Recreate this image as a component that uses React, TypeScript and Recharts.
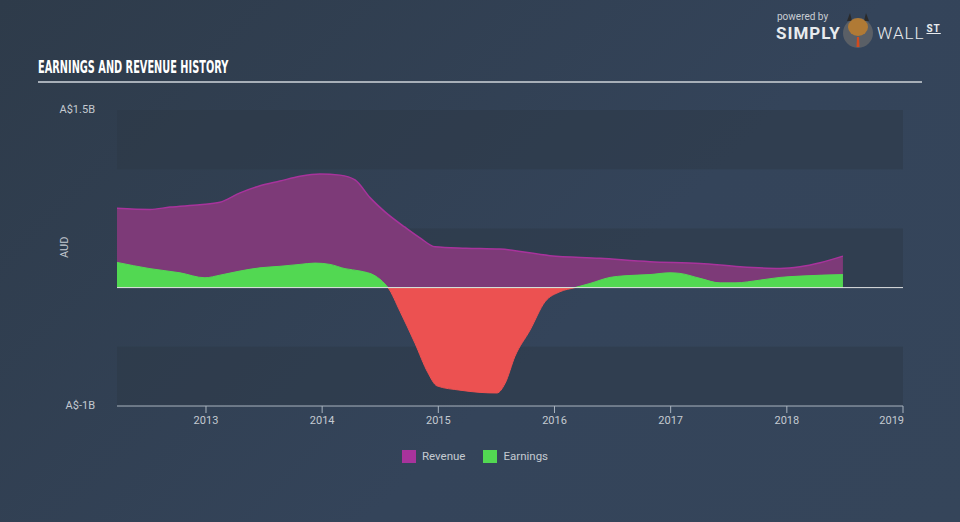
import React from "react";
import {
  AreaChart,
  Area,
  XAxis,
  YAxis,
  ReferenceArea,
  ReferenceLine,
} from "recharts";

// decimal years
const revenueYears = [
  2012.234, 2012.518, 2012.69, 2012.948, 2013.12, 2013.293, 2013.465, 2013.637,
  2013.809, 2013.981, 2014.153, 2014.283, 2014.412, 2014.541, 2014.713, 2014.842,
  2014.971, 2015.238, 2015.531, 2015.961, 2016.392, 2016.822, 2017.253, 2017.597,
  2017.941, 2018.113, 2018.286, 2018.483,
];
// A$ billions
const revenueValues = [
  0.67, 0.66, 0.68, 0.7, 0.72, 0.8, 0.86, 0.9, 0.94, 0.96, 0.95, 0.91, 0.76, 0.64,
  0.51, 0.42, 0.345, 0.333, 0.325, 0.27, 0.247, 0.218, 0.204, 0.176, 0.162, 0.176,
  0.21, 0.266,
];

const earningsYears = [
  2012.234, 2012.518, 2012.776, 2012.991, 2013.12, 2013.293, 2013.465, 2013.637,
  2013.809, 2013.938, 2014.067, 2014.196, 2014.326, 2014.455, 2014.541, 2014.567,
  2014.67, 2014.799, 2014.911, 2014.988, 2015.186, 2015.359, 2015.505, 2015.574,
  2015.66, 2015.789, 2015.918, 2016.047, 2016.176, 2016.306, 2016.478, 2016.607,
  2016.822, 2016.994, 2017.08, 2017.253, 2017.425, 2017.554, 2017.769, 2017.941,
  2018.113, 2018.483,
];
const earningsValues = [
  0.213, 0.16, 0.125, 0.083, 0.105, 0.14, 0.167, 0.18, 0.196, 0.207, 0.196, 0.16,
  0.14, 0.1, 0.03, 0, -0.2, -0.47, -0.72, -0.83, -0.866, -0.885, -0.89, -0.81,
  -0.58, -0.36, -0.12, -0.035, 0, 0.035, 0.086, 0.1, 0.11, 0.125, 0.12, 0.078,
  0.04, 0.04, 0.063, 0.086, 0.097, 0.11,
];

const yearTicks = [2013, 2014, 2015, 2016, 2017, 2018, 2019];
const valueTicks = [1.5, -1];
const valueLabels = ["A$1.5B", "A$-1B"];
const bandTops = [1.5, 0.5, -0.5];
const legendNames = ["Revenue", "Earnings"];

const revenueData = revenueYears.map((t, i) => ({ t, revenue: revenueValues[i] }));
const earningsData = earningsYears.map((t, i) => ({ t, earnings: earningsValues[i] }));

const eMax = Math.max(...earningsValues);
const eMin = Math.min(...earningsValues);
const zeroOffset = eMax / (eMax - eMin);

const GREEN = "#52d852";
const RED = "#ec5151";
const PURPLE = "#a8339c";
const TEXT = "#c4cad1";

function YearTick(props: any) {
  const { x, y, payload } = props;
  const last = payload.value === yearTicks[yearTicks.length - 1];
  return (
    <text
      x={last ? x + 1 : x}
      y={y}
      dy="0.71em"
      textAnchor={last ? "end" : "middle"}
      fill={TEXT}
      fontSize={11}
      fontFamily="Roboto, sans-serif"
    >
      {payload.value}
    </text>
  );
}

function ValueTick(props: any) {
  const { x, y, payload } = props;
  const idx = valueTicks.indexOf(payload.value);
  return (
    <text
      x={x}
      y={y - 1}
      dy="0.35em"
      textAnchor="end"
      fill={TEXT}
      fontSize={11}
      fontFamily="Roboto, sans-serif"
    >
      {valueLabels[idx]}
    </text>
  );
}

export default function App() {
  return (
    <div
      style={{
        position: "absolute",
        left: 0,
        top: 0,
        width: 960,
        height: 522,
        background: "linear-gradient(135deg, #2e3b4a 0%, #34445a 60%, #35455a 100%)",
        fontFamily: "Roboto, sans-serif",
        overflow: "hidden",
      }}
    >
      <div
        style={{
          position: "absolute",
          left: 38,
          top: 57,
          color: "#ffffff",
          fontFamily: "'DejaVu Sans Condensed', 'Liberation Sans', sans-serif",
          fontWeight: 700,
          fontSize: 17,
          whiteSpace: "nowrap",
          transform: "scaleX(0.64)",
          transformOrigin: "left top",
        }}
      >
        EARNINGS AND REVENUE HISTORY
      </div>
      <div
        style={{
          position: "absolute",
          left: 38,
          top: 81,
          width: 884,
          height: 2,
          background: "#a7afb8",
        }}
      />

      {/* logo */}
      <div style={{ position: "absolute", left: 777, top: 11, color: "#c9ced4", fontSize: 10 }}>
        powered by
      </div>
      <div
        style={{
          position: "absolute",
          left: 776,
          top: 23,
          color: "#e8ebee",
          fontSize: 17,
          fontWeight: 700,
          letterSpacing: 1,
        }}
      >
        SIMPLY
      </div>
      <svg style={{ position: "absolute", left: 841, top: 9 }} width={34} height={40}>
        <circle cx={17} cy={24} r={15} fill="#5a5f66" />
        <path d="M6 12 L9 4 L11 12 Z M28 12 L25 4 L23 12 Z" fill="#2a2a2a" />
        <ellipse cx={17} cy={18} rx={10} ry={9} fill="#b07a35" />
        <path d="M16 28 L18 28 L18.5 38 L15.5 38 Z" fill="#d24a1e" />
      </svg>
      <div
        style={{
          position: "absolute",
          left: 877,
          top: 23,
          color: "#e8ebee",
          fontSize: 17,
          fontWeight: 300,
          letterSpacing: 1,
        }}
      >
        WALL
        <span
          style={{
            fontSize: 10,
            fontWeight: 700,
            verticalAlign: "top",
            marginLeft: 2,
            textDecoration: "underline",
          }}
        >
          ST
        </span>
      </div>

      <div style={{ position: "absolute", left: 0, top: 0 }}>
        <AreaChart
          width={960}
          height={522}
          margin={{ top: 110, right: 57, bottom: 86, left: 0 }}
        >
          <defs>
            <linearGradient id="earnFill" x1="0" y1="0" x2="0" y2="1">
              <stop offset={zeroOffset} stopColor={GREEN} />
              <stop offset={zeroOffset} stopColor={RED} />
            </linearGradient>
          </defs>
          {bandTops.map((top) => (
            <ReferenceArea
              key={top}
              y1={top}
              y2={top - 0.5}
              fill="#2b3846"
              fillOpacity={0.5}
              stroke="none"
              ifOverflow="visible"
            />
          ))}
          <XAxis
            dataKey="t"
            type="number"
            domain={[revenueYears[0], 2019]}
            ticks={yearTicks}
            tick={<YearTick />}
            tickSize={7}
            tickMargin={3}
            height={30}
            stroke="#a9b3be"
            allowDataOverflow
          />
          <YAxis
            type="number"
            domain={[-1, 1.5]}
            ticks={valueTicks}
            tick={<ValueTick />}
            axisLine={false}
            tickLine={false}
            tickMargin={16}
            width={117}
            label={{
              value: "AUD",
              angle: -90,
              position: "insideLeft",
              offset: 64,
              fill: TEXT,
              fontSize: 11,
            }}
          />
          <Area
            data={revenueData}
            dataKey="revenue"
            type="monotone"
            baseValue={0}
            stroke={PURPLE}
            strokeWidth={1.5}
            fill="#7d3a78"
            fillOpacity={1}
            isAnimationActive={false}
          />
          <Area
            data={earningsData}
            dataKey="earnings"
            type="monotone"
            baseValue={0}
            stroke="url(#earnFill)"
            strokeWidth={1}
            fill="url(#earnFill)"
            fillOpacity={1}
            isAnimationActive={false}
          />
          <ReferenceLine y={0} stroke="#f2f2f2" strokeWidth={1} strokeOpacity={0.9} />
        </AreaChart>
      </div>

      {/* legend */}
      <div
        style={{
          position: "absolute",
          left: 0,
          top: 449,
          width: 960,
          display: "flex",
          justifyContent: "center",
          gap: 18,
          paddingRight: 10,
          boxSizing: "border-box",
          fontSize: 11.5,
          color: TEXT,
        }}
      >
        {legendNames.map((name, i) => (
          <div key={name} style={{ display: "flex", alignItems: "center", gap: 6 }}>
            <span
              style={{
                width: 14,
                height: 13,
                background: i === 0 ? PURPLE : GREEN,
                display: "inline-block",
              }}
            />
            <span>{name}</span>
          </div>
        ))}
      </div>
    </div>
  );
}
